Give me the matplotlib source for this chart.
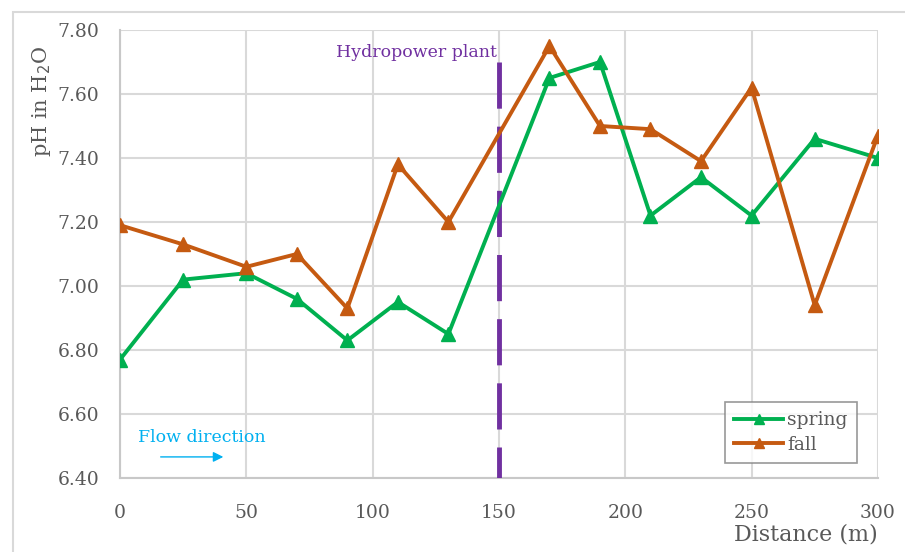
import numpy as np
import matplotlib as mpl
import matplotlib.pyplot as plt
from matplotlib.patches import Rectangle

# data
distance = [0, 25, 50, 70, 90, 110, 130, 170, 190, 210, 230, 250, 275, 300]
spring = [6.77, 7.02, 7.04, 6.96, 6.83, 6.95, 6.85, 7.65, 7.70, 7.22, 7.34, 7.22, 7.46, 7.40]
fall = [7.19, 7.13, 7.06, 7.10, 6.93, 7.38, 7.20, 7.75, 7.50, 7.49, 7.39, 7.62, 6.94, 7.47]
x_ticks = [0, 50, 100, 150, 200, 250, 300]
y_ticks = [6.40, 6.60, 6.80, 7.00, 7.20, 7.40, 7.60, 7.80]
plant_x = 150

mpl.rc('font', family=['DejaVu Serif'], size=12)

fig = plt.figure(figsize=(9.05, 5.52), dpi=100)
ax = fig.add_axes([0.1326, 0.134, 0.970 - 0.1326, 0.9457 - 0.134])

# outer chart border (only top and left are inside the picture)
fig.patches.append(Rectangle((0.0144, -0.05), 1.2, 1.028, transform=fig.transFigure,
                             fill=False, edgecolor='#d9d9d9', linewidth=1.5))

ax.plot(distance, spring, color='#00b050', linewidth=2.8, marker='^', markersize=9.5,
        label='spring', zorder=4)
ax.plot(distance, fall, color='#c55a11', linewidth=2.8, marker='^', markersize=9.5,
        label='fall', zorder=4)

ax.plot([plant_x, plant_x], [7.70, 6.40], color='#7030a0', linewidth=3.5,
        dashes=(9.5, 3.7), zorder=3)
ax.text(plant_x - 1, 7.73, 'Hydropower plant', color='#7030a0', fontsize=12.5,
        ha='right', va='center')

ax.text(7, 6.528, 'Flow direction', color='#00b0f0', fontsize=12.5, ha='left', va='center')
ax.annotate('', xy=(42, 6.466), xytext=(15, 6.466),
            arrowprops=dict(arrowstyle='-|>', color='#00b0f0', lw=1, mutation_scale=15))

ax.set_xlim(0, 300)
ax.set_ylim(6.40, 7.80)
ax.set_xticks(x_ticks)
ax.set_yticks(y_ticks)
ax.set_yticklabels([f'{v:.2f}' for v in y_ticks])
ax.grid(True, color='#d9d9d9', linewidth=1.5)
ax.set_axisbelow(True)
for s in ['top', 'right']:
    ax.spines[s].set_visible(False)
for s in ['left', 'bottom']:
    ax.spines[s].set_color('#c8c8c8')
    ax.spines[s].set_linewidth(1.5)
ax.tick_params(length=0, labelsize=13.5, labelcolor='#595959')
ax.tick_params(axis='x', pad=19)
ax.tick_params(axis='y', pad=15)

ax.set_ylabel('pH in H$_2$O', fontsize=15, color='#595959', labelpad=0)
ax.yaxis.set_label_coords(-0.088, 0.84)
ax.set_xlabel('Distance (m)', fontsize=16, color='#595959', ha='center', va='center')
ax.xaxis.set_label_coords(0.905, -0.126)

leg = ax.legend(loc='lower right', bbox_to_anchor=(0.972, 0.033), frameon=True,
                fancybox=False, fontsize=13.5, handlelength=2.6, borderpad=0.5,
                labelspacing=0.35, handletextpad=0.2, labelcolor='#595959',
                markerscale=0.8, borderaxespad=0)
leg.get_frame().set_edgecolor('#7f7f7f')
leg.get_frame().set_linewidth(1.2)

plt.savefig('out.png', dpi=100)
